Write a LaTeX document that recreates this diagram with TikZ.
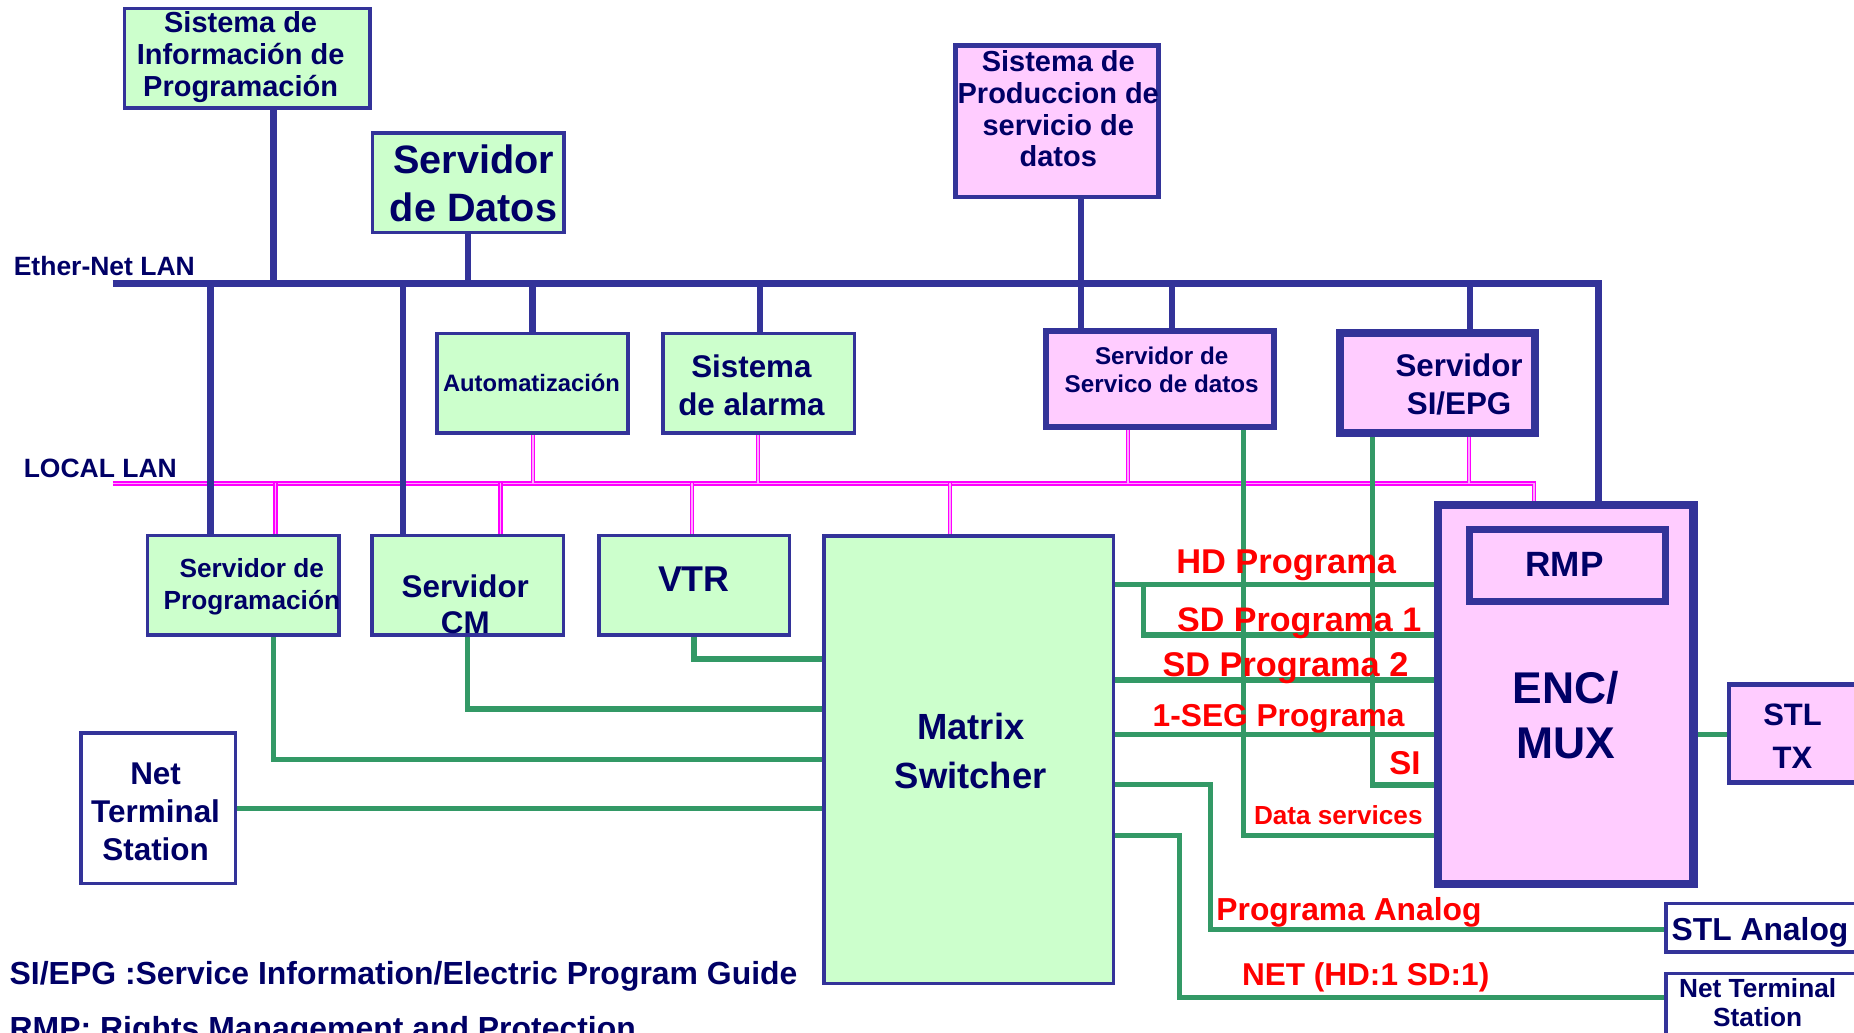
\documentclass[tikz,border=0pt]{standalone}
\usepackage{fontspec}
\setmainfont{Liberation Sans}
\definecolor{navyline}{HTML}{333399}
\definecolor{navytext}{HTML}{000066}
\definecolor{gfill}{HTML}{CCFFCC}
\definecolor{pfill}{HTML}{FFCCFF}
\definecolor{gline}{HTML}{339966}
\definecolor{mag}{HTML}{FF00FF}
\definecolor{magpale}{HTML}{FFA8FF}
\definecolor{redtext}{HTML}{FF0000}
\newcommand{\fsz}[2]{\fontsize{#1pt}{#2pt}\selectfont\bfseries}
\newcommand{\stt}{\rule[-.25em]{0pt}{1em}}
\pgfdeclarelayer{bg}
\pgfsetlayers{bg,main}
\tikzset{
  bx/.style={draw=navyline, inner sep=0pt, outer sep=0pt},
  gbox/.style={bx, fill=gfill, line width=3pt},
  pbox/.style={bx, fill=pfill},
  wbox/.style={bx, fill=white, line width=3pt},
  sz/.style 2 args={minimum width=#1pt, minimum height=#2pt},
  lbl/.style={text=navytext, align=center, inner sep=0pt, outer sep=0pt},
  rlbl/.style={text=redtext, inner sep=0pt, outer sep=0pt, anchor=base west},
  ebus/.style={draw=navyline, line width=5.6pt},
  evert/.style={draw=navyline, line width=5.5pt},
  gconn/.style={draw=gline, line width=4.5pt},
  mconn/.style={draw=mag, line width=1.1pt, double=magpale, double distance=1.4pt},
}
\begin{document}
\begin{tikzpicture}[x=1pt,y=-1pt]
\useasboundingbox (0,0) rectangle (1568,873);
\clip (0,0) rectangle (1568,873);

% ---------- boxes ----------
\node[gbox, sz={207.7}{84.4}] (sysinfo) at (209.05,49.3) {};
\node[gbox, sz={161.9}{84.4}] (sdatos) at (395.85,154.5) {};
\node[pbox, line width=4pt, sz={171.5}{127.9}] (prod) at (893.85,102.65) {};
\node[gbox, sz={161.6}{84.4}] (auto) at (450.2,324.2) {};
\node[gbox, sz={161.8}{84.4}] (alarm) at (641.7,324.2) {};
\node[pbox, line width=5pt, sz={193.2}{81}] (servico) at (981.1,320.7) {};
\node[pbox, line width=7pt, sz={164.8}{84.7}] (siepg) at (1215.5,324.05) {};
\node[gbox, sz={162}{84.2}] (sprog) at (205.7,495.1) {};
\node[gbox, sz={161.9}{84.2}] (scm) at (395.55,495.1) {};
\node[gbox, sz={161}{84.2}] (vtr) at (587.2,495.1) {};
\node[gbox, sz={244.7}{378.6}] (matrix) at (819.35,642.4) {};
\node[wbox, sz={130.6}{127.4}] (netl) at (133.9,683.4) {};
\node[pbox, line width=7pt, sz={216.1}{320.6}] (enc) at (1324.15,587.2) {};
\node[pbox, line width=6pt, sz={166.2}{61.1}] (rmp) at (1325.7,478.15) {};
\node[pbox, line width=4pt, sz={117.7}{82.8}] (stltx) at (1521.15,620.5) {};
\node[wbox, sz={171.1}{41.2}] (stla) at (1494.45,784.7) {};
\node[wbox, sz={171.1}{75.2}] (netr) at (1494.45,861.1) {};

% ---------- bus coordinates ----------
\coordinate (eL) at (95.3,239.6);
\coordinate (eR) at (1351.8,239.6);
\coordinate (lL) at (95.3,408.8);
\coordinate (lR) at (1297.2,408.8);
\coordinate (e1) at (178.2,239.6);
\coordinate (e2) at (231.4,239.6);
\coordinate (e3) at (340.9,239.6);
\coordinate (e4) at (395.8,239.6);
\coordinate (e5) at (450.5,239.6);
\coordinate (e6) at (642.9,239.6);
\coordinate (e7) at (914.4,239.6);
\coordinate (e8) at (991.4,239.6);
\coordinate (e9) at (1243.1,239.6);
\coordinate (l1) at (232.9,408.8);
\coordinate (l2) at (423.2,408.8);
\coordinate (l3) at (450.5,408.8);
\coordinate (l4) at (585.4,408.8);
\coordinate (l5) at (641.0,408.8);
\coordinate (l6) at (803.4,408.8);
\coordinate (l7) at (953.9,408.8);
\coordinate (l8) at (1242.5,408.8);
% green bends
\coordinate (gv) at (586.8,557.3);
\coordinate (gc) at (395.1,599.7);
\coordinate (gp) at (231.5,642.4);
\coordinate (gn) at (200,683.6);
\coordinate (hd) at (967.3,494.1);
\coordinate (sd1) at (967.3,537.1);
\coordinate (sd2) at (960,575.0);
\coordinate (seg) at (960,620.9);
\coordinate (an1) at (1023.9,663.4);
\coordinate (an2) at (1023.9,786.2);
\coordinate (nt1) at (997.5,706.4);
\coordinate (nt2) at (997.5,843.8);
\coordinate (ds1) at (1051.5,706.4);
\coordinate (si1) at (1161.0,664.0);
\coordinate (st) at (1445,621.3);

\begin{pgfonlayer}{bg}
% LOCAL LAN (magenta)
\draw[mconn] (lL) -- (lR) -- (lR |- enc.north);
\draw[mconn] (l1) -- (l1 |- sprog.north);
\draw[mconn] (l2) -- (l2 |- scm.north);
\draw[mconn] (l3) -- (l3 |- auto.south);
\draw[mconn] (l4) -- (l4 |- vtr.north);
\draw[mconn] (l5) -- (l5 |- alarm.south);
\draw[mconn] (l6) -- (l6 |- matrix.north);
\draw[mconn] (l7) -- (l7 |- servico.south);
\draw[mconn] (l8) -- (l8 |- siepg.south);
% Ether-Net LAN (navy)
\draw[ebus] (eL) -- (eR) -- (eR |- enc.north);
\draw[evert] (e1) -- (e1 |- sprog.north);
\draw[evert] (e2) -- (e2 |- sysinfo.south);
\draw[evert] (e3) -- (e3 |- scm.north);
\draw[evert] (e4) -- (e4 |- sdatos.south);
\draw[evert] (e5) -- (e5 |- auto.north);
\draw[evert] (e6) -- (e6 |- alarm.north);
\draw[evert] (e7 |- prod.south) -- (e7 |- servico.north);
\draw[evert] (e8) -- (e8 |- servico.north);
\draw[evert] (e9) -- (e9 |- siepg.north);
% green signal lines
\draw[gconn] (gv |- vtr.south) -- (gv) -- (gv -| matrix.west);
\draw[gconn] (gc |- scm.south) -- (gc) -- (gc -| matrix.west);
\draw[gconn] (gp |- sprog.south) -- (gp) -- (gp -| matrix.west);
\draw[gconn] (gn -| netl.east) -- (gn -| matrix.west);
\draw[gconn] (hd -| matrix.east) -- (hd -| enc.west);
\draw[gconn] (hd) -- (sd1) -- (sd1 -| enc.west);
\draw[gconn] (sd2 -| matrix.east) -- (sd2 -| enc.west);
\draw[gconn] (seg -| matrix.east) -- (seg -| enc.west);
\draw[gconn] (an1 -| matrix.east) -- (an1) -- (an2) -- (an2 -| stla.west);
\draw[gconn] (nt1 -| matrix.east) -- (nt1) -- (nt2) -- (nt2 -| netr.west);
\draw[gconn] (ds1 |- servico.south) -- (ds1) -- (ds1 -| enc.west);
\draw[gconn] (si1 |- siepg.south) -- (si1) -- (si1 -| enc.west);
\draw[gconn] (st -| enc.east) -- (st -| stltx.west);
\end{pgfonlayer}

% ---------- box texts ----------
\node[lbl, font={\fsz{24.5}{27}}] (sysinfoT) at (203.5,48.6) {\stt Sistema de\\Información de\\Programación\stt};
\node[lbl, font={\fsz{33.5}{41}}] (sdatosT) at (400.5,158.7) {\stt Servidor\\de Datos\stt};
\node[lbl, font={\fsz{24.5}{26.8}}] (prodT) at (895,94.7) {\stt Sistema de\\Produccion de\\servicio de\\datos\stt};
\node[lbl, font={\fsz{20.1}{24}}, anchor=base] (autoT) at (449.5,330.7) {Automatización};
\node[lbl, font={\fsz{26.5}{31.6}}] (alarmT) at (635.5,328.6) {\stt Sistema\\de alarma\stt};
\node[lbl, font={\fsz{20.5}{23.6}}] (servicoT) at (982.5,314.9) {\stt Servidor de\\Servico de datos\stt};
\node[lbl, font={\fsz{26.5}{32.4}}] (siepgT) at (1234,327.6) {\stt Servidor\\SI/EPG\stt};
\node[lbl, font={\fsz{22.2}{27.3}}] (sprogT) at (213,496.5) {\stt Servidor de\\Programación\stt};
\node[lbl, font={\fsz{26.5}{30.3}}] (scmT) at (393.5,513.6) {\stt Servidor\\CM\stt};
\node[lbl, font={\fsz{30.3}{34}}, anchor=base] (vtrT) at (586.8,500.6) {VTR};
\node[lbl, font={\fsz{30.8}{41.6}}] (matrixT) at (821,638.3) {\stt Matrix\\Switcher\stt};
\node[lbl, font={\fsz{26.6}{32.2}}] (netlT) at (131.6,689.1) {\stt Net\\Terminal\\Station\stt};
\node[lbl, font={\fsz{37.6}{46.5}}] (encT) at (1324,608.6) {\stt ENC/\\MUX\stt};
\node[lbl, font={\fsz{29.7}{34}}, anchor=base] (rmpT) at (1323.2,487.7) {RMP};
\node[lbl, font={\fsz{26.2}{36.6}}] (stltxT) at (1516,624.95) {\stt STL\\TX\stt};
\node[lbl, font={\fsz{26.9}{30}}, anchor=base west] (stlaT) at (1413.8,795) {STL Analog};
\node[lbl, font={\fsz{22.2}{24}}] (netrT) at (1486.5,850.2) {\stt Net Terminal\\Station\stt};

% ---------- LAN labels ----------
\node[lbl, font={\fsz{22.4}{26}}, anchor=base west] (etherT) at (11.7,233.4) {Ether-Net LAN};
\node[lbl, font={\fsz{22.4}{26}}, anchor=base west] (localT) at (20.1,403.7) {LOCAL LAN};

% ---------- red signal labels ----------
\node[rlbl, font={\fsz{29.1}{32}}] (hdT) at (994.8,485.4) {HD Programa};
\node[rlbl, font={\fsz{28.8}{32}}] (sd1T) at (995.6,534.2) {SD Programa 1};
\node[rlbl, font={\fsz{29.0}{32}}] (sd2T) at (983.2,572.1) {SD Programa 2};
\node[rlbl, font={\fsz{26.8}{30}}] (segT) at (974.9,614.6) {1-SEG Programa};
\node[rlbl, font={\fsz{27.9}{30}}] (siT) at (1175,654.8) {SI};
\node[rlbl, font={\fsz{22.1}{25}}] (dsT) at (1060.6,697) {Data services};
\node[rlbl, font={\fsz{26.9}{30}}] (anT) at (1028.8,778.8) {Programa Analog};
\node[rlbl, font={\fsz{26.7}{30}}] (ntT) at (1050.4,833.2) {NET (HD:1 SD:1)};

% ---------- footer ----------
\node[lbl, font={\fsz{27}{30}}, anchor=base west] (foot1) at (8.2,832.5) {SI/EPG :Service Information/Electric Program Guide};
\node[lbl, font={\fsz{27}{30}}, anchor=base west] (foot2) at (8.2,879.5) {RMP: Rights Management and Protection};
\end{tikzpicture}
\end{document}
